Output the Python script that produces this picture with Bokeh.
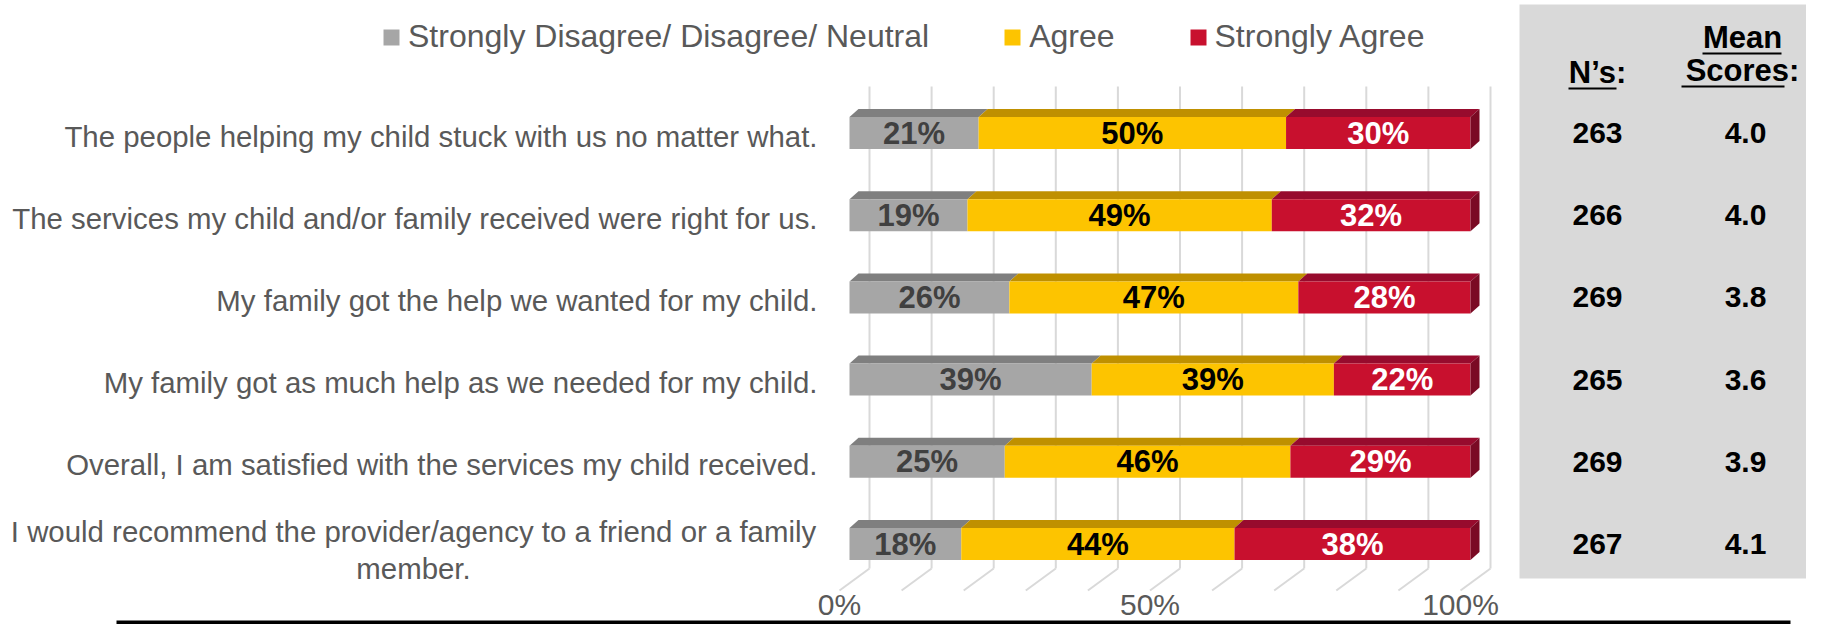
from bokeh.plotting import figure
from bokeh.models import Range1d, Legend, LegendItem, BoxAnnotation
from bokeh.embed import file_html
from bokeh.resources import INLINE
from bokeh.core.properties import value

# ---------------- data ----------------
categories = [
    "The people helping my child stuck with us no matter what.",
    "The services my child and/or family received were right for us.",
    "My family got the help we wanted for my child.",
    "My family got as much help as we needed for my child.",
    "Overall, I am satisfied with the services my child received.",
    "I would recommend the provider/agency to a friend or a family\nmember.",
]
series = ["Strongly Disagree/ Disagree/ Neutral", "Agree", "Strongly Agree"]
disagree_neutral = [21, 19, 26, 39, 25, 18]
agree = [50, 49, 47, 39, 46, 44]
strongly_agree = [30, 32, 28, 22, 29, 38]
n_counts = [263, 266, 269, 265, 269, 267]
mean_scores = [4.0, 4.0, 3.8, 3.6, 3.9, 4.1]
x_ticks = [0, 50, 100]
x_tick_labels = ["0%", "50%", "100%"]
table_headers = ["N\u2019s:", "Mean", "Scores:"]

# ---------------- style / layout ----------------
FONT = "Liberation Sans"
front_colors = ["#a6a6a6", "#fdc400", "#c8102e"]
top_colors = ["#7f7f7f", "#bf9000", "#970b2d"]
side_color = "#7a0a24"
value_colors = ["#404040", "#000000", "#ffffff"]
label_color = "#595959"
grid_color = "#d9d9d9"

W, H = 1806, 624
X0_PX, PX_PER_PCT = 849.0, 6.21
Y0_PX, PX_PER_ROW = 132.5, 82.2


def rx(px):
    return (px - X0_PX) / PX_PER_PCT


def ry(px):
    return (px - Y0_PX) / PX_PER_ROW


BAR_H = 32 / PX_PER_ROW
DX = 9 / PX_PER_PCT
DY = 8 / PX_PER_ROW

p = figure(width=W, height=H, output_backend="svg", toolbar_location=None,
           x_range=Range1d(rx(0), rx(W)),
           y_range=Range1d(ry(H), ry(0)),
           x_axis_type=None, y_axis_type=None, min_border=0,
           outline_line_color=None, background_fill_color="white")

rows = list(range(len(categories)))

# right-hand table panel
p.add_layout(BoxAnnotation(left=rx(1519), right=rx(1840), top=ry(4), bottom=ry(578),
                           fill_color="#d9d9d9", fill_alpha=1, line_color=None,
                           level="underlay"))

# 3D back wall gridlines and floor
back_off = 20 / PX_PER_PCT
grid_x = [g + back_off for g in range(0, 101, 10)]
p.segment(x0=grid_x, x1=grid_x, y0=[ry(86)] * len(grid_x), y1=[ry(568)] * len(grid_x),
          line_color=grid_color, line_width=2)
p.segment(x0=grid_x, x1=[g - 30 / PX_PER_PCT for g in grid_x],
          y0=[ry(568)] * len(grid_x), y1=[ry(590)] * len(grid_x),
          line_color=grid_color, line_width=2)

# stacked 3D bars
all_vals = [disagree_neutral, agree, strongly_agree]
totals = [a + b + c for a, b, c in zip(*all_vals)]
shares = [[v / t * 100 for v, t in zip(vals, totals)] for vals in all_vals]
lefts = [0.0] * len(rows)
front_renderers = []
for k, sh in enumerate(shares):
    left = lefts
    right = [l + s for l, s in zip(left, sh)]
    top = [i - BAR_H / 2 for i in rows]
    p.patches(xs=[[l, l + DX, r + DX, r] for l, r in zip(left, right)],
              ys=[[t, t - DY, t - DY, t] for t in top],
              fill_color=top_colors[k], line_color=None)
    r = p.hbar(y=rows, left=left, right=right, height=BAR_H,
               fill_color=front_colors[k], line_color=None)
    front_renderers.append(r)
    if k == len(shares) - 1:
        p.patches(xs=[[rr, rr + DX, rr + DX, rr] for rr in right],
                  ys=[[i - BAR_H / 2, i - BAR_H / 2 - DY, i + BAR_H / 2 - DY, i + BAR_H / 2]
                      for i in rows],
                  fill_color=side_color, line_color=None)
    p.text(x=[(l + rr) / 2 for l, rr in zip(left, right)], y=rows,
           text=[f"{v}%" for v in all_vals[k]],
           text_align="center", text_baseline="middle",
           text_font=value(FONT), text_font_style="bold", text_font_size="31px",
           text_color=value_colors[k])
    lefts = right

# category labels
lab_dy = 3 / PX_PER_ROW
single = [i for i, c in enumerate(categories) if "\n" not in c]
wrapped = [i for i, c in enumerate(categories) if "\n" in c]
p.text(x=[rx(817)] * len(single), y=[i + lab_dy for i in single],
       text=[categories[i] for i in single],
       text_align="right", text_baseline="middle",
       text_font=value(FONT), text_font_size="29.4px", text_color=label_color)
p.text(x=[rx(413)] * len(wrapped), y=[i + 6 / PX_PER_ROW for i in wrapped],
       text=[categories[i] for i in wrapped],
       text_align="center", text_baseline="middle", text_line_height=1.1,
       text_font=value(FONT), text_font_size="29.4px", text_color=label_color)

# x tick labels (floor front edge)
floor_off = -10 / PX_PER_PCT
p.text(x=[t + floor_off for t in x_ticks], y=[ry(604)] * len(x_ticks), text=x_tick_labels,
       text_align="center", text_baseline="middle",
       text_font=value(FONT), text_font_size="30px", text_color=label_color)

# table
p.text(x=[rx(1597)], y=[ry(72)], text=[table_headers[0]], text_align="center",
       text_baseline="middle", text_font=value(FONT), text_font_style="bold",
       text_font_size="31px", text_color="black")
p.text(x=[rx(1742), rx(1742)], y=[ry(37), ry(70)], text=table_headers[1:],
       text_align="center", text_baseline="middle", text_font=value(FONT),
       text_font_style="bold", text_font_size="31px", text_color="black")
p.segment(x0=[rx(1568), rx(1702), rx(1681)], x1=[rx(1616), rx(1781), rx(1784)],
          y0=[ry(88), ry(53), ry(86)], y1=[ry(88), ry(53), ry(86)],
          line_color="black", line_width=2)
p.text(x=[rx(1597)] * len(rows), y=rows, text=[str(n) for n in n_counts],
       text_align="center", text_baseline="middle", text_font=value(FONT),
       text_font_style="bold", text_font_size="30px", text_color="black")
p.text(x=[rx(1745)] * len(rows), y=rows, text=[f"{m:.1f}" for m in mean_scores],
       text_align="center", text_baseline="middle", text_font=value(FONT),
       text_font_style="bold", text_font_size="30px", text_color="black")

# bottom rule
p.segment(x0=[rx(116)], x1=[rx(1790)], y0=[ry(622)], y1=[ry(622)],
          line_color="black", line_width=4)

legend = Legend(items=[LegendItem(label=s, renderers=[r]) for s, r in zip(series, front_renderers)],
                orientation="horizontal", location=(381, 569),
                glyph_width=20, glyph_height=20, label_standoff=7, spacing=73,
                padding=0, margin=0, border_line_color=None, background_fill_alpha=0,
                label_text_font=FONT, label_text_font_size="32px",
                label_text_color=label_color)
p.add_layout(legend)

open("out.html", "w").write(file_html(p, INLINE))
